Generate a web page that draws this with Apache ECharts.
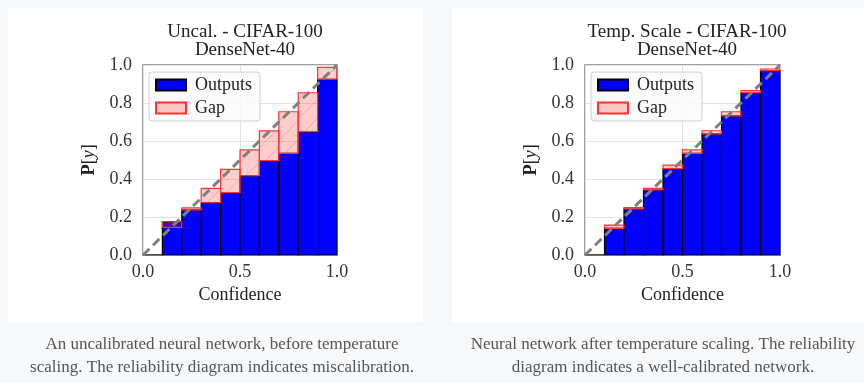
<!DOCTYPE html>
<html>
<head>
<meta charset="utf-8">
<script src="https://cdn.jsdelivr.net/npm/echarts@6/dist/echarts.min.js"></script>
<style>
html,body{margin:0;padding:0;background:#f7f8fa;}
#c{width:864px;height:383px;}
</style>
</head>
<body>
<div id="c"></div>
<script>
// ---- data ----
const binEdges = [0.0, 0.1, 0.2, 0.3, 0.4, 0.5, 0.6, 0.7, 0.8, 0.9, 1.0];
const uncalOutputs = [0.0, 0.175, 0.237, 0.275, 0.328, 0.418, 0.497, 0.535, 0.649, 0.925];
const uncalConfidence = [0.0, 0.145, 0.248, 0.351, 0.451, 0.553, 0.653, 0.754, 0.854, 0.987];
const tempOutputs = [0.0, 0.140, 0.242, 0.342, 0.455, 0.535, 0.637, 0.732, 0.855, 0.970];
const tempConfidence = [0.0, 0.157, 0.249, 0.351, 0.473, 0.553, 0.654, 0.754, 0.865, 0.979];
const xTicks = [0.0, 0.5, 1.0];
const yTicks = [0.0, 0.2, 0.4, 0.6, 0.8, 1.0];
const titles = ['Uncal. - CIFAR-100\nDenseNet-40', 'Temp. Scale - CIFAR-100\nDenseNet-40'];
const captions = [
  'An uncalibrated neural network, before temperature\nscaling. The reliability diagram indicates miscalibration.',
  'Neural network after temperature scaling. The reliability\ndiagram indicates a well-calibrated network.'
];
const diagonal = [[0, 0], [1, 1]];

// ---- chart ----
const serif = '"Liberation Serif", "DejaVu Serif", serif';
const chart = echarts.init(document.getElementById('c'), null, {renderer: 'canvas'});

function outputData(outs) {
  return outs.map((v, i) => [binEdges[i], binEdges[i + 1], 0, v]);
}
function gapData(outs, conf) {
  return outs.map((v, i) => [binEdges[i], binEdges[i + 1], v, conf[i]]);
}
function renderRect(params, api) {
  const p0 = api.coord([api.value(0), api.value(2)]);
  const p1 = api.coord([api.value(1), api.value(3)]);
  return {
    type: 'rect',
    shape: {x: p0[0], y: Math.min(p0[1], p1[1]), width: p1[0] - p0[0], height: Math.abs(p1[1] - p0[1])},
    style: api.style()
  };
}
function renderGap(params, api) {
  if (api.value(2) === api.value(3)) return null;
  const p0 = api.coord([api.value(0), api.value(2)]);
  const p1 = api.coord([api.value(1), api.value(3)]);
  const x = p0[0], y = Math.min(p0[1], p1[1]);
  const w = p1[0] - p0[0], h = Math.abs(p1[1] - p0[1]);
  const children = [
    {type: 'rect', shape: {x: x, y: y, width: w, height: h},
      style: {fill: 'rgba(255,0,0,0.2)', stroke: 'none'}}
  ];
  const step = 19;
  const start = 6 - Math.floor((h + 6) / step) * step;
  for (let off = start; off < w; off += step) {
    const s0 = Math.max(0, -off), s1 = Math.min(h, w - off);
    if (s1 - s0 < 1) continue;
    children.push({
      type: 'line',
      shape: {x1: x + off + s0, y1: y + h - s0, x2: x + off + s1, y2: y + h - s1},
      style: {stroke: 'rgba(225,90,90,0.45)', lineWidth: 0.8}
    });
  }
  children.push({type: 'rect', shape: {x: x, y: y, width: w, height: h},
    style: {fill: 'none', stroke: '#ff3030', lineWidth: 1.2}});
  return {type: 'group', children: children};
}

const grids = [
  {left: 143, top: 65, width: 194, height: 190},
  {left: 585, top: 65, width: 195, height: 190}
];
const panels = [
  {outs: uncalOutputs, conf: uncalConfidence},
  {outs: tempOutputs, conf: tempConfidence}
];

const series = [];
panels.forEach((p, k) => {
  series.push({
    name: 'Outputs', type: 'custom', xAxisIndex: k, yAxisIndex: k,
    renderItem: renderRect, encode: {x: [0, 1], y: [2, 3]},
    itemStyle: {color: '#0000ff', borderColor: '#000000', borderWidth: 1.2},
    data: outputData(p.outs), z: 2, silent: true
  });
  series.push({
    name: 'Gap', type: 'custom', xAxisIndex: k, yAxisIndex: k,
    renderItem: renderGap, encode: {x: [0, 1], y: [2, 3]},
    itemStyle: {color: 'rgba(255,0,0,0.2)', borderColor: '#ff3030', borderWidth: 1.2},
    data: gapData(p.outs, p.conf), z: 3, silent: true
  });
  series.push({
    name: 'diag', type: 'line', xAxisIndex: k, yAxisIndex: k,
    data: diagonal, showSymbol: false, z: 4, silent: true,
    lineStyle: {color: '#7f7f7f', width: 3, type: [9, 5]}
  });
});

function xAxis(k) {
  return {
    gridIndex: k, type: 'value', min: 0, max: 1, interval: 0.5,
    name: 'Confidence', nameLocation: 'middle', nameGap: 31,
    nameTextStyle: {fontFamily: serif, fontSize: 18, color: '#222'},
    axisLine: {show: false}, axisTick: {show: false},
    axisLabel: {fontFamily: serif, fontSize: 18, color: '#333', margin: 8,
      formatter: v => v.toFixed(1)},
    splitLine: {show: true, lineStyle: {color: '#e3e3e3', width: 1}}
  };
}
function yAxis(k) {
  return {
    gridIndex: k, type: 'value', min: 0, max: 1, interval: 0.2,
    name: '{b|P}{n|[}{i|y}{n|]}', nameLocation: 'middle', nameGap: 44, nameRotate: 90,
    nameTextStyle: {fontFamily: serif, fontSize: 18, color: '#222',
      rich: {
        b: {fontFamily: serif, fontSize: 19, fontWeight: 'bold', color: '#222'},
        n: {fontFamily: serif, fontSize: 18, color: '#222'},
        i: {fontFamily: serif, fontSize: 18, fontStyle: 'italic', color: '#222'}
      }},
    axisLine: {show: false}, axisTick: {show: false},
    axisLabel: {fontFamily: serif, fontSize: 18, color: '#333', margin: 11,
      formatter: v => v.toFixed(1)},
    splitLine: {show: true, lineStyle: {color: '#e3e3e3', width: 1}}
  };
}

const option = {
  backgroundColor: '#f7f8fa',
  animation: false,
  graphic: [
    {type: 'rect', shape: {x: 8, y: 8, width: 415, height: 314}, style: {fill: '#ffffff'}, z: -10},
    {type: 'rect', shape: {x: 452, y: 8, width: 412, height: 314}, style: {fill: '#ffffff'}, z: -10}
  ],
  title: [
    {text: titles[0], left: 240, top: 18, textAlign: 'center',
      textStyle: {fontFamily: serif, fontSize: 19, fontWeight: 'normal', color: '#222', lineHeight: 18}},
    {text: titles[1], left: 682, top: 18, textAlign: 'center',
      textStyle: {fontFamily: serif, fontSize: 19, fontWeight: 'normal', color: '#222', lineHeight: 18}},
    {text: captions[0], left: 217, top: 328, textAlign: 'center',
      textStyle: {fontFamily: serif, fontSize: 17, fontWeight: 'normal', color: '#555', lineHeight: 23}},
    {text: captions[1], left: 658, top: 328, textAlign: 'center',
      textStyle: {fontFamily: serif, fontSize: 17, fontWeight: 'normal', color: '#555', lineHeight: 23}}
  ],
  legend: [0, 1].map(k => ({
    data: ['Outputs', 'Gap'], orient: 'vertical',
    left: grids[k].left + 6, top: 72,
    itemWidth: 30, itemHeight: 11, itemGap: 5,
    icon: 'rect',
    padding: [4, 8, 4, 6],
    backgroundColor: 'rgba(250,250,250,0.85)', borderColor: '#d0d0d0', borderWidth: 1, borderRadius: 3,
    textStyle: {fontFamily: serif, fontSize: 18, color: '#222', padding: [0, 0, 0, 4]},
    selectedMode: false
  })),
  grid: grids.map(g => Object.assign({show: true, borderColor: '#808080', borderWidth: 1.5, backgroundColor: '#ffffff'}, g)),
  xAxis: [xAxis(0), xAxis(1)],
  yAxis: [yAxis(0), yAxis(1)],
  series: series
};
chart.setOption(option);
</script>
</body>
</html>
